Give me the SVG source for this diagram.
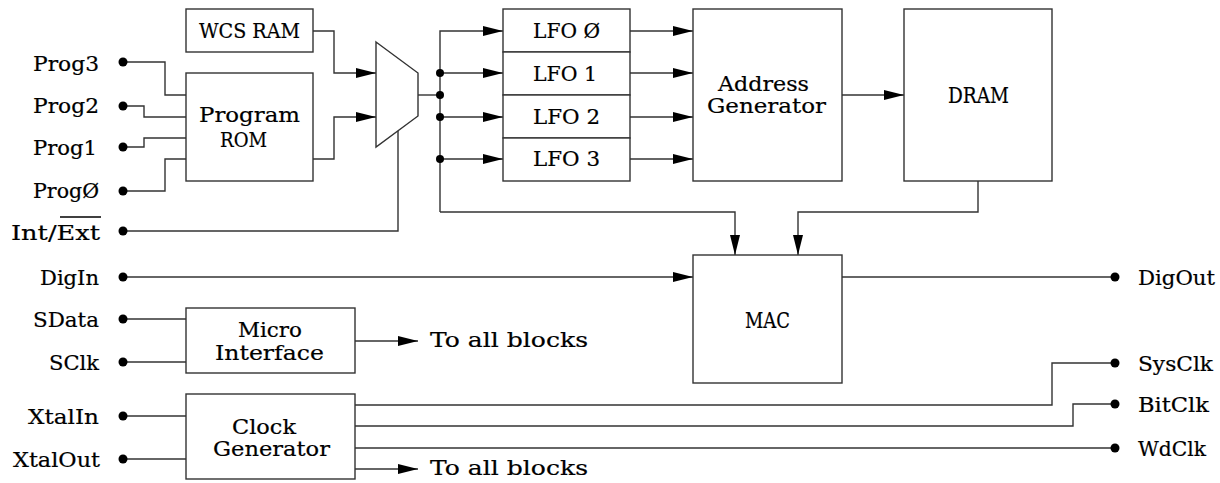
<svg xmlns="http://www.w3.org/2000/svg" width="1220" height="483" viewBox="0 0 1220 483">
  <style>
    .box { fill: #fff; stroke: #333; stroke-width: 1.4; }
    .wire { fill: none; stroke: #333; stroke-width: 1.4; }
    .arrow { marker-end: url(#head); }
    .pin { fill: #000; }
    text { font-family: "DejaVu Serif", "Liberation Serif", serif; font-size: 21px; fill: #000; stroke: #000; stroke-width: 0.2; }
    .big { font-size: 22.5px; }
  </style>
  <defs>
    <marker id="head" markerUnits="userSpaceOnUse" markerWidth="20" markerHeight="10" refX="20" refY="5" orient="auto">
      <path d="M0,0 L20,5 L0,10 Z" fill="#000"/>
    </marker>
  </defs>

  <rect width="1220" height="483" fill="#fff"/>

  <!-- connectors -->
  <g id="connectors">
    <!-- program select inputs into the ROM -->
    <path class="wire" d="M123,62 H165 V95 H186"/>
    <path class="wire" d="M123,106 H144 V117 H186"/>
    <path class="wire" d="M123,147 H144 V138 H186"/>
    <path class="wire" d="M123,191 H165 V159 H186"/>
    <!-- internal / external select to the mux -->
    <path class="wire" d="M123,231 H398 V131"/>
    <!-- program sources into the mux -->
    <path class="wire arrow" d="M313,31 H334 V73 H376"/>
    <path class="wire arrow" d="M313,159 H334 V117 H376"/>
    <!-- mux output bus -->
    <path class="wire" d="M418,95 H440"/>
    <path class="wire arrow" d="M440,212 V31 H503"/>
    <path class="wire arrow" d="M440,73 H503"/>
    <path class="wire arrow" d="M440,117 H503"/>
    <path class="wire arrow" d="M440,159 H503"/>
    <path class="wire arrow" d="M440,212 H735 V255"/>
    <!-- LFOs to address generator -->
    <path class="wire arrow" d="M630,31 H693"/>
    <path class="wire arrow" d="M630,73 H693"/>
    <path class="wire arrow" d="M630,117 H693"/>
    <path class="wire arrow" d="M630,159 H693"/>
    <!-- address generator to DRAM, DRAM to MAC -->
    <path class="wire arrow" d="M842,95 H904"/>
    <path class="wire arrow" d="M978,181 V212 H798 V255"/>
    <!-- digital audio path -->
    <path class="wire arrow" d="M123,277 H693"/>
    <path class="wire" d="M842,277 H1115"/>
    <!-- micro interface -->
    <path class="wire" d="M123,319 H186"/>
    <path class="wire" d="M123,362 H186"/>
    <path class="wire arrow" d="M355,341 H418"/>
    <!-- clock generator -->
    <path class="wire" d="M123,416 H186"/>
    <path class="wire" d="M123,459 H186"/>
    <path class="wire" d="M355,405 H1052 V363 H1115"/>
    <path class="wire" d="M355,426 H1073 V404 H1115"/>
    <path class="wire" d="M355,448 H1115"/>
    <path class="wire arrow" d="M355,469 H418"/>
    <!-- bus junctions -->
    <circle class="pin" cx="440" cy="73" r="4"/>
    <circle class="pin" cx="440" cy="95" r="4"/>
    <circle class="pin" cx="440" cy="117" r="4"/>
    <circle class="pin" cx="440" cy="159" r="4"/>
  </g>

  <!-- external pins -->
  <g id="pins-left">
    <circle class="pin" cx="123" cy="62" r="4.5"/>
    <circle class="pin" cx="123" cy="106" r="4.5"/>
    <circle class="pin" cx="123" cy="147" r="4.5"/>
    <circle class="pin" cx="123" cy="191" r="4.5"/>
    <circle class="pin" cx="123" cy="231" r="4.5"/>
    <circle class="pin" cx="123" cy="277" r="4.5"/>
    <circle class="pin" cx="123" cy="319" r="4.5"/>
    <circle class="pin" cx="123" cy="362" r="4.5"/>
    <circle class="pin" cx="123" cy="416" r="4.5"/>
    <circle class="pin" cx="123" cy="459" r="4.5"/>
    <text x="33" y="71" textLength="66" lengthAdjust="spacingAndGlyphs">Prog3</text>
    <text x="33" y="113" textLength="66" lengthAdjust="spacingAndGlyphs">Prog2</text>
    <text x="33" y="155" textLength="64" lengthAdjust="spacingAndGlyphs">Prog1</text>
    <text x="33" y="198" textLength="66" lengthAdjust="spacingAndGlyphs">ProgØ</text>
    <text x="11" y="240" textLength="89" lengthAdjust="spacingAndGlyphs">Int/Ext</text>
    <line x1="60" y1="217" x2="101" y2="217" stroke="#000" stroke-width="1.4"/>
    <text x="40" y="285" textLength="59" lengthAdjust="spacingAndGlyphs">DigIn</text>
    <text x="33" y="327" textLength="66" lengthAdjust="spacingAndGlyphs">SData</text>
    <text x="49" y="370" textLength="50" lengthAdjust="spacingAndGlyphs">SClk</text>
    <text x="28" y="424" textLength="71" lengthAdjust="spacingAndGlyphs">XtalIn</text>
    <text x="13" y="467" textLength="87" lengthAdjust="spacingAndGlyphs">XtalOut</text>
  </g>

  <g id="pins-right">
    <circle class="pin" cx="1115" cy="277" r="4.5"/>
    <circle class="pin" cx="1115" cy="363" r="4.5"/>
    <circle class="pin" cx="1115" cy="404" r="4.5"/>
    <circle class="pin" cx="1115" cy="448" r="4.5"/>
    <text x="1138" y="285" textLength="77" lengthAdjust="spacingAndGlyphs">DigOut</text>
    <text x="1138" y="371" textLength="75" lengthAdjust="spacingAndGlyphs">SysClk</text>
    <text x="1138" y="412" textLength="71" lengthAdjust="spacingAndGlyphs">BitClk</text>
    <text x="1138" y="456" textLength="68" lengthAdjust="spacingAndGlyphs">WdClk</text>
  </g>

  <!-- blocks -->
  <g id="wcs-ram">
    <rect class="box" x="186" y="9" width="127" height="43"/>
    <text x="199" y="38" textLength="101" lengthAdjust="spacingAndGlyphs">WCS RAM</text>
  </g>

  <g id="program-rom">
    <rect class="box" x="186" y="73" width="127" height="108"/>
    <text x="199" y="122" textLength="101" lengthAdjust="spacingAndGlyphs">Program</text>
    <text x="220" y="147" textLength="47" lengthAdjust="spacingAndGlyphs">ROM</text>
  </g>

  <g id="mux">
    <polygon class="box" points="376,42 418,73 418,116 376,147"/>
  </g>

  <g id="lfo0">
    <rect class="box" x="503" y="9" width="127" height="43"/>
    <text x="533" y="38" textLength="67" lengthAdjust="spacingAndGlyphs">LFO Ø</text>
  </g>
  <g id="lfo1">
    <rect class="box" x="503" y="52" width="127" height="43"/>
    <text x="533" y="81" textLength="64" lengthAdjust="spacingAndGlyphs">LFO 1</text>
  </g>
  <g id="lfo2">
    <rect class="box" x="503" y="95" width="127" height="43"/>
    <text x="533" y="124" textLength="67" lengthAdjust="spacingAndGlyphs">LFO 2</text>
  </g>
  <g id="lfo3">
    <rect class="box" x="503" y="138" width="127" height="43"/>
    <text x="533" y="166" textLength="67" lengthAdjust="spacingAndGlyphs">LFO 3</text>
  </g>

  <g id="address-generator">
    <rect class="box" x="693" y="9" width="149" height="172"/>
    <text x="718" y="91" textLength="91" lengthAdjust="spacingAndGlyphs">Address</text>
    <text x="707" y="113" textLength="119" lengthAdjust="spacingAndGlyphs">Generator</text>
  </g>

  <g id="dram">
    <rect class="box" x="904" y="9" width="148" height="172"/>
    <text class="big" x="948" y="103" textLength="61" lengthAdjust="spacingAndGlyphs">DRAM</text>
  </g>

  <g id="mac">
    <rect class="box" x="693" y="255" width="149" height="128"/>
    <text class="big" x="745" y="328" textLength="45" lengthAdjust="spacingAndGlyphs">MAC</text>
  </g>

  <g id="micro-interface">
    <rect class="box" x="186" y="308" width="169" height="65"/>
    <text x="238" y="337" textLength="64" lengthAdjust="spacingAndGlyphs">Micro</text>
    <text x="215" y="360" textLength="109" lengthAdjust="spacingAndGlyphs">Interface</text>
    <text x="430" y="347" textLength="158" lengthAdjust="spacingAndGlyphs">To all blocks</text>
  </g>

  <g id="clock-generator">
    <rect class="box" x="186" y="394" width="169" height="85"/>
    <text x="232" y="434" textLength="64" lengthAdjust="spacingAndGlyphs">Clock</text>
    <text x="213" y="456" textLength="117" lengthAdjust="spacingAndGlyphs">Generator</text>
    <text x="430" y="475" textLength="158" lengthAdjust="spacingAndGlyphs">To all blocks</text>
  </g>
</svg>
